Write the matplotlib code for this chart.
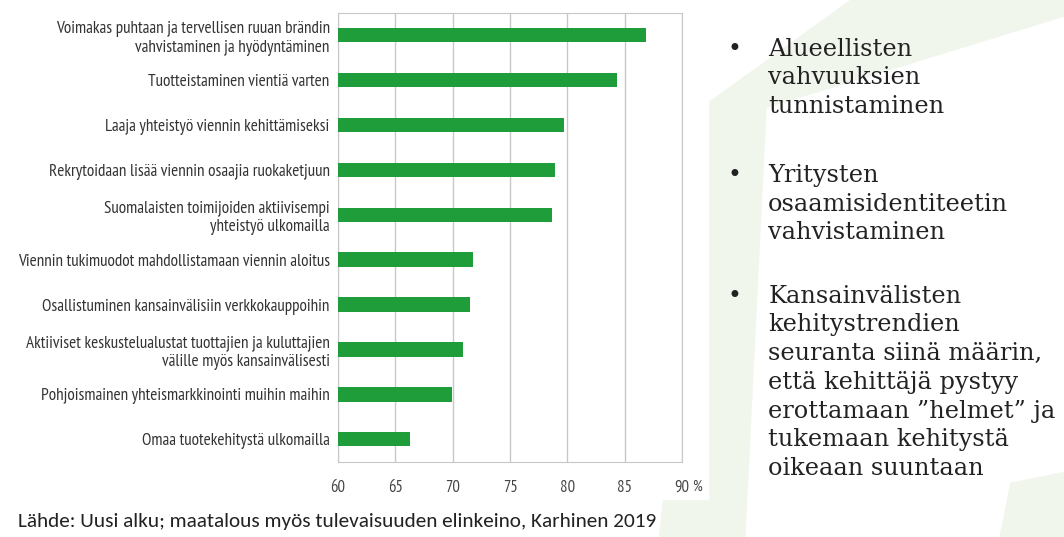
import matplotlib.pyplot as plt
import matplotlib.patches as mpatches

labels = [
    "Voimakas puhtaan ja tervellisen ruuan brändin\nvahvistaminen ja hyödyntäminen",
    "Tuotteistaminen vientiä varten",
    "Laaja yhteistyö viennin kehittämiseksi",
    "Rekrytoidaan lisää viennin osaajia ruokaketjuun",
    "Suomalaisten toimijoiden aktiivisempi\nyhteistyö ulkomailla",
    "Viennin tukimuodot mahdollistamaan viennin aloitus",
    "Osallistuminen kansainvälisiin verkkokauppoihin",
    "Aktiiviset keskustelualustat tuottajien ja kuluttajien\nvälille myös kansainvälisesti",
    "Pohjoismainen yhteismarkkinointi muihin maihin",
    "Omaa tuotekehitystä ulkomailla",
]
values = [86.9, 84.3, 79.7, 78.9, 78.7, 71.8, 71.5, 70.9, 69.9, 66.3]
ticks = [60, 65, 70, 75, 80, 85, 90]

bullets = [
    "Alueellisten\nvahvuuksien\ntunnistaminen",
    "Yritysten\nosaamisidentiteetin\nvahvistaminen",
    "Kansainvälisten\nkehitystrendien\nseuranta siinä määrin,\nettä kehittäjä pystyy\nerottamaan ”helmet” ja\ntukemaan kehitystä\noikeaan suuntaan",
]
source = "Lähde: Uusi alku; maatalous myös tulevaisuuden elinkeino, Karhinen 2019"

narrow = ["PT Sans Narrow", "Archivo Narrow", "DejaVu Sans"]
serif = ["DejaVu Serif"]
sans = ["Carlito", "Lato", "DejaVu Sans"]

fig = plt.figure(figsize=(10.64, 5.37), dpi=100)
fig.patch.set_facecolor("white")

# faint green background shapes of the slide
bg = "#f1f6ed"
fig.patches.append(mpatches.Polygon([(0.62, 0.0), (0.70, 0.0), (0.72, 0.80), (0.66, 0.80)],
                                    closed=True, transform=fig.transFigure, color=bg, zorder=0))
fig.patches.append(mpatches.Polygon([(0.66, 0.80), (0.72, 0.80), (1.0, 0.97), (1.0, 1.0), (0.80, 1.0)],
                                    closed=True, transform=fig.transFigure, color=bg, zorder=0))
fig.patches.append(mpatches.Polygon([(0.94, 0.0), (1.0, 0.0), (1.0, 0.12), (0.95, 0.10)],
                                    closed=True, transform=fig.transFigure, color=bg, zorder=0))
# white panel behind the chart image
fig.patches.append(mpatches.Rectangle((0.0, 0.07), 0.665, 0.93, transform=fig.transFigure,
                                      color="white", zorder=0.5))

ax = fig.add_axes([0.3177, 0.1402, 0.3233, 0.8361])
ax.set_zorder(2)
y = range(len(values))
ax.barh(y, values, height=0.32, color="#1f9d3a", zorder=3)
ax.set_xlim(60, 90)
ax.set_ylim(9.5, -0.5)
ax.set_xticks(ticks)
ax.set_xticklabels([str(t) for t in ticks], fontsize=12, family=narrow, color="#444444")
ax.set_yticks(list(y))
ax.set_yticklabels(labels, fontsize=12.3, family=narrow, color="#333333")
ax.tick_params(axis="both", length=0)
ax.tick_params(axis="y", pad=6)
ax.tick_params(axis="x", pad=13)
ax.grid(axis="x", color="#c8c8c8", linewidth=1, zorder=0)
for s in ax.spines.values():
    s.set_color("#c8c8c8")
ax.annotate("%", xy=(1, 0), xycoords="axes fraction", xytext=(7, -13),
            textcoords="offset points", fontsize=11, family=narrow,
            color="#444444", va="top", ha="left")

# bullet list on the right
tops = [0.93, 0.695, 0.47]
for t, b in zip(tops, bullets):
    fig.text(0.684, t, "•", fontsize=17, family=serif, color="#222222", va="top")
    fig.text(0.722, t, b, fontsize=17.3, family=serif, color="#222222",
             va="top", linespacing=1.32)

fig.text(0.017, 0.028, source, fontsize=15.3, family=sans, color="#222222", va="center")

fig.savefig("out.png", dpi=100, facecolor=fig.get_facecolor())
